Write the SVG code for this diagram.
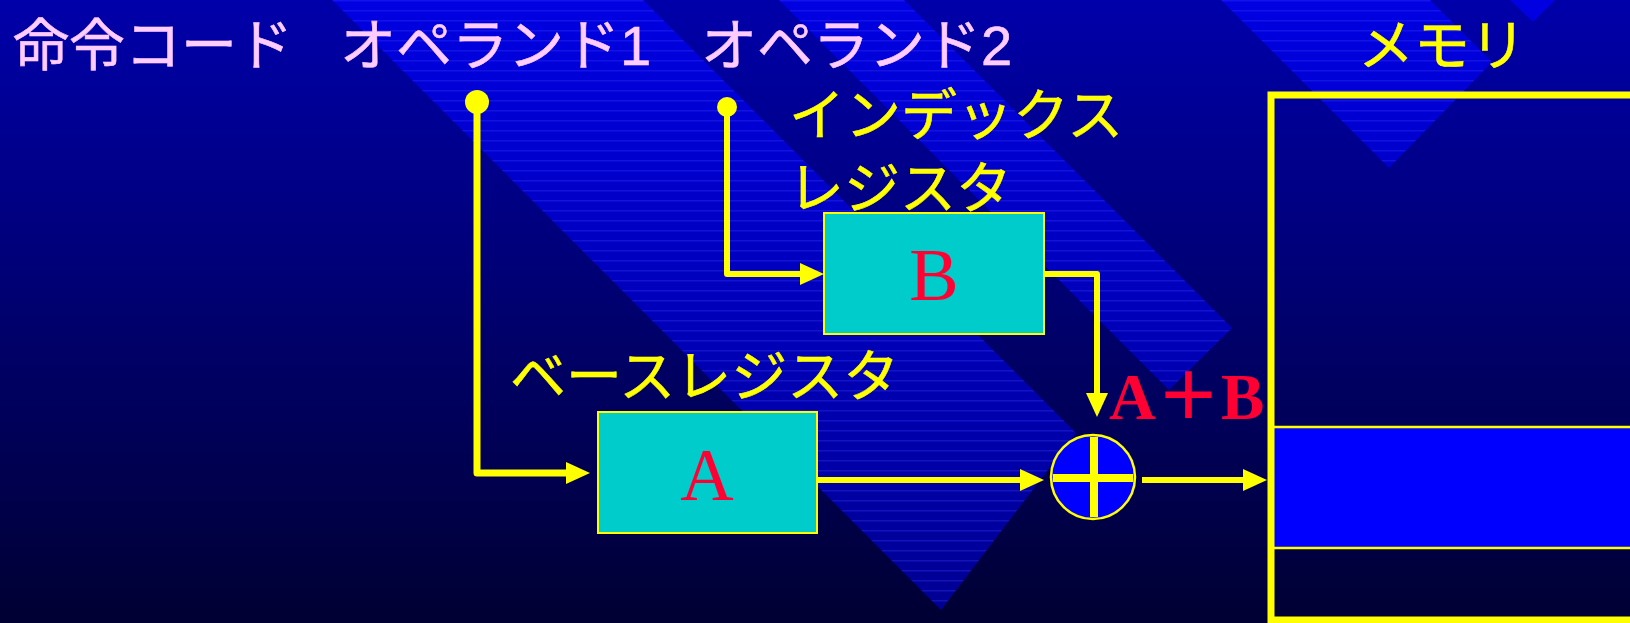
<svg xmlns="http://www.w3.org/2000/svg" width="1630" height="623" viewBox="0 0 1630 623">
  <defs>
    <linearGradient id="bg" x1="0" y1="0" x2="0" y2="1">
      <stop offset="0" stop-color="#0000AA"/>
      <stop offset="1" stop-color="#000033"/>
    </linearGradient>
    <linearGradient id="bandFill" gradientUnits="userSpaceOnUse" x1="0" y1="0" x2="0" y2="623">
      <stop offset="0" stop-color="#0000E2"/>
      <stop offset="1" stop-color="#000092"/>
    </linearGradient>
    <pattern id="scan" width="20" height="10" patternUnits="userSpaceOnUse">
      <rect x="0" y="0" width="20" height="1.5" fill="#4040FF" opacity="0.3"/>
    </pattern>
    <marker id="arrow" markerUnits="userSpaceOnUse" markerWidth="24" markerHeight="22" refX="12" refY="11" orient="auto">
      <path d="M0,0 L24,11 L0,22 z" fill="#FFFF00"/>
    </marker>
  </defs>
  <style>
    .wire { fill: none; stroke: #FFFF00; stroke-width: 6; stroke-linejoin: round; marker-end: url(#arrow); }
    .label { font-family: "Liberation Sans", "Noto Sans CJK JP", "Noto Sans CJK SC", sans-serif; font-size: 56px; stroke-width: 0.6px; }
    .pink { fill: #FFCCFF; stroke: #FFCCFF; }
    .yellow { fill: #FFFF00; stroke: #FFFF00; }
    .reg { fill: #00CCCC; stroke: #FFFF00; stroke-width: 2; }
    .regname { font-family: "Liberation Serif", serif; font-size: 74px; fill: #FF0033; text-anchor: middle; }
    .band { fill: url(#bandFill); }
    .bandlines { fill: url(#scan); }
  </style>

  <!-- backdrop: gradient with diagonal ribbons -->
  <g id="backdrop">
    <rect x="0" y="0" width="1630" height="623" fill="url(#bg)"/>
    <polygon class="band" points="332,0 643,0 1076,433 941,610"/>
    <polygon class="band" points="779,0 904,0 1232,328 1169,390"/>
    <polygon class="band" points="1221,0 1430,0 1492,62 1389,168"/>
    <polygon class="band" points="1510,0 1555,0 1533,22"/>
    <polygon class="bandlines" points="332,0 643,0 1076,433 941,610"/>
    <polygon class="bandlines" points="779,0 904,0 1232,328 1169,390"/>
    <polygon class="bandlines" points="1221,0 1430,0 1492,62 1389,168"/>
  </g>

  <!-- field headings -->
  <g id="field-opcode">
    <text class="label pink" x="13" y="65">命令コード</text>
  </g>
  <g id="field-operand1">
    <text class="label pink" x="340" y="65">オペランド1</text>
    <circle cx="477" cy="102" r="12" fill="#FFFF00"/>
  </g>
  <g id="field-operand2">
    <text class="label pink" x="701" y="65">オペランド2</text>
    <circle cx="727" cy="107" r="10" fill="#FFFF00"/>
  </g>

  <!-- connectors -->
  <g id="connectors">
    <path class="wire" style="stroke-width:7" d="M477,102 V473 H578"/>
    <path class="wire" d="M727,107 V274 H812"/>
    <path class="wire" d="M1045,274 H1097 V405"/>
    <path class="wire" d="M817,480 H1032"/>
    <path class="wire" d="M1142,480 H1255"/>
  </g>

  <!-- index register -->
  <g id="index-register">
    <text class="label yellow" x="789" y="135">インデックス</text>
    <text class="label yellow" x="788" y="208">レジスタ</text>
    <rect class="reg" x="824" y="213" width="220" height="121"/>
    <text class="regname" x="934" y="300">B</text>
  </g>

  <!-- base register -->
  <g id="base-register">
    <text class="label yellow" x="510" y="396">ベースレジスタ</text>
    <rect class="reg" x="598" y="412" width="219" height="121"/>
    <text class="regname" x="707" y="500">A</text>
  </g>

  <!-- adder -->
  <g id="adder">
    <circle cx="1093" cy="477" r="42" fill="#0000FF" stroke="#FFFF00" stroke-width="2.5"/>
    <path d="M1053,478 H1133 M1094,437 V517" stroke="#FFFF00" stroke-width="8" fill="none"/>
    <text x="1109" y="419" font-family="Liberation Serif, Noto Sans CJK JP, serif" font-weight="bold" font-size="65" fill="#FF0033">A＋B</text>
  </g>

  <!-- memory -->
  <g id="memory">
    <text class="label yellow" x="1358" y="65">メモリ</text>
    <rect x="1271" y="427" width="400" height="121" fill="#0000FF" stroke="#FFFF00" stroke-width="2.5"/>
    <rect x="1271" y="95" width="400" height="525" fill="none" stroke="#FFFF00" stroke-width="7"/>
  </g>
</svg>
